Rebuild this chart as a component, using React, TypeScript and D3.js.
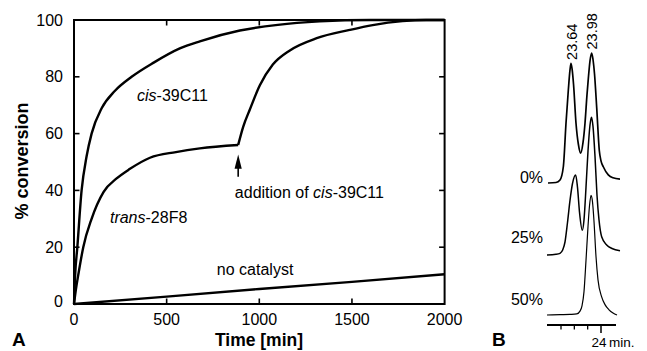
import React from 'react';
import * as d3 from 'd3';

// ---------- Panel A data ----------
const timeTicks = [0, 500, 1000, 1500, 2000];
const percentTicks = [0, 20, 40, 60, 80, 100];

const cisCurve: [number, number][] = [
  [0, 0], [6, 10], [18, 20], [41, 40], [68, 52], [95, 60], [150, 69], [220, 75],
  [311, 80], [430, 85], [571, 90], [679, 92.5], [895, 96.3], [1100, 98.3],
  [1326, 99.5], [1600, 100], [2000, 100],
];
const transBefore: [number, number][] = [
  [0, 0], [10, 5], [25, 11], [50, 20], [95, 30], [160, 39.5], [230, 44.2], [300, 47.5],
  [410, 51.5], [550, 53.5], [679, 54.8], [886, 56],
];
const transAfter: [number, number][] = [
  [886, 56], [913, 62.4], [949, 68.5], [1003, 77], [1073, 84.3], [1165, 89.3],
  [1310, 93.6], [1488, 96.5], [1612, 98.2], [1773, 99.6], [1900, 100], [2000, 100],
];
const noCatalyst: [number, number][] = [
  [0, 0], [500, 2.6], [1000, 5.3], [1500, 7.8], [2000, 10.5],
];
const additionTime = 886;

// ---------- Panel B data ----------
const chromMinorTicks = [23.4, 23.6, 23.8];
const chromMajorTick = 24;
const chromAxisDomain = [23.19, 24.225];
const traceLabels = ['0%', '25%', '50%'];
const peakLabels = ['23.64', '23.98'];

const trace0: [number, number][] = [
  [23.205, 0], [23.325, 0.4], [23.385, 2.3], [23.435, 12.5], [23.475, 46], [23.51, 71.5],
  [23.535, 87], [23.55, 92], [23.568, 87], [23.588, 76], [23.625, 46], [23.66, 30],
  [23.6955, 23], [23.73, 31], [23.76, 46], [23.79, 68], [23.8125, 82], [23.835, 94],
  [23.86, 100], [23.88, 95], [23.9025, 84], [23.9355, 58], [23.9745, 25], [24.0, 17],
  [24.0345, 12.5], [24.1095, 6.2], [24.18, 4], [24.285, 3],
];
const trace25: [number, number][] = [
  [23.19, 0], [23.325, 0.5], [23.385, 1.3], [23.425, 3.8], [23.46, 10], [23.4975, 25],
  [23.535, 42], [23.5725, 55], [23.62, 61.5], [23.6475, 52], [23.6775, 33], [23.72, 19],
  [23.745, 27], [23.775, 52], [23.805, 80], [23.835, 100], [23.8575, 106], [23.88, 99],
  [23.91, 76], [23.94, 46], [23.97, 27], [24.01, 14], [24.0855, 7.7], [24.165, 5],
  [24.285, 3.3],
];
const trace50: [number, number][] = [
  [23.19, 0], [23.385, 0.3], [23.535, 0.5], [23.6355, 0.8], [23.685, 3], [23.715, 7],
  [23.745, 18], [23.775, 42], [23.805, 68], [23.8275, 84], [23.85, 92], [23.8725, 87],
  [23.895, 72], [23.925, 45], [23.955, 27], [24.01, 14], [24.06, 8], [24.12, 4],
  [24.18, 1.5], [24.24, 0],
];
const traces = [trace0, trace25, trace50];

const FONT = "'Liberation Sans', Arial, Helvetica, sans-serif";

export default function App() {
  const W = 647, H = 351;
  const x = d3.scaleLinear().domain([0, 2000]).range([74, 444.6]);
  const y = d3.scaleLinear().domain([0, 100]).range([304, 20]);
  const line = d3.line<[number, number]>().x(d => x(d[0])).y(d => y(d[1])).curve(d3.curveMonotoneX);
  const tick = 5.5;

  // panel B
  const bx = d3.scaleLinear().domain([23.4, 24]).range([561, 601]);
  const bs = d3.scaleLinear().domain([0, 100]).range([0, 130]);
  const baselines = [183, 255, 315];
  const traceWidths = [1.7, 1.5, 1.2];
  const bAxisY = 325;
  const peakRefs: [number, number][] = [trace0[7], trace0[18]];

  return (
    <svg width={W} height={H} style={{ position: 'absolute', left: 0, top: 0, background: '#fff' }}
      fontFamily={FONT}>
      <rect x={0} y={0} width={W} height={H} fill="#fff" />
      {/* Panel A frame */}
      <rect x={x(0)} y={y(100)} width={x(2000) - x(0)} height={y(0) - y(100)} fill="none" stroke="#000" strokeWidth={2} />
      {timeTicks.slice(1, -1).map(t => (
        <g key={'xt' + t}>
          <line x1={x(t)} x2={x(t)} y1={y(0)} y2={y(0) - tick} stroke="#000" strokeWidth={1.6} />
          <line x1={x(t)} x2={x(t)} y1={y(100)} y2={y(100) + tick} stroke="#000" strokeWidth={1.6} />
        </g>
      ))}
      {percentTicks.slice(1, -1).map(p => (
        <g key={'yt' + p}>
          <line x1={x(0)} x2={x(0) + tick} y1={y(p)} y2={y(p)} stroke="#000" strokeWidth={1.6} />
          <line x1={x(2000)} x2={x(2000) - tick} y1={y(p)} y2={y(p)} stroke="#000" strokeWidth={1.6} />
        </g>
      ))}
      {timeTicks.map(t => (
        <text key={'xl' + t} x={x(t)} y={325} textAnchor="middle" fontSize={16}>{t}</text>
      ))}
      {percentTicks.map(p => (
        <text key={'yl' + p} x={63} y={y(p) + 5.5 - (p === 0 ? 3 : 0)} textAnchor="end" fontSize={16}>{p}</text>
      ))}
      <text transform="translate(28,161) rotate(-90)" textAnchor="middle" fontSize={18} fontWeight="bold">% conversion</text>
      <text x={259} y={346} textAnchor="middle" fontSize={17.5} fontWeight="bold">Time [min]</text>
      <text x={12} y={346} fontSize={19} fontWeight="bold">A</text>

      {/* curves */}
      <path d={line(cisCurve) || ''} fill="none" stroke="#000" strokeWidth={2.4} />
      <path d={line(transBefore) || ''} fill="none" stroke="#000" strokeWidth={2.4} />
      <path d={line(transAfter) || ''} fill="none" stroke="#000" strokeWidth={2.4} />
      <path d={d3.line<[number, number]>().x(d => x(d[0])).y(d => y(d[1]))(noCatalyst) || ''} fill="none" stroke="#000" strokeWidth={2.4} />

      {/* annotations */}
      <text x={x(340)} y={y(71.5)} fontSize={16}><tspan fontStyle="italic">cis</tspan>-39C11</text>
      <text x={x(194)} y={y(28.5)} fontSize={16}><tspan fontStyle="italic">trans</tspan>-28F8</text>
      <text x={x(868)} y={y(37.3)} fontSize={16}>addition of <tspan fontStyle="italic">cis</tspan>-39C11</text>
      <text x={x(771)} y={y(10.2)} fontSize={16}>no catalyst</text>
      <line x1={x(additionTime)} x2={x(additionTime)} y1={y(44.8)} y2={y(50)} stroke="#000" strokeWidth={1.6} />
      <path d={`M${x(additionTime)},${y(52.6)} L${x(additionTime) - 3.6},${y(47.6)} L${x(additionTime) + 3.6},${y(47.6)} Z`} fill="#000" />

      {/* Panel B */}
      {traces.map((tr, i) => {
        const l = d3.line<[number, number]>().x(d => bx(d[0])).y(d => baselines[i] - bs(d[1])).curve(d3.curveMonotoneX);
        return <path key={'tr' + i} d={l(tr) || ''} fill="none" stroke="#000" strokeWidth={traceWidths[i]} />;
      })}
      {traceLabels.map((lab, i) => (
        <text key={'tl' + i} x={543} y={[183.3, 243, 305][i]} textAnchor="end" fontSize={16}>{lab}</text>
      ))}
      {peakLabels.map((lab, i) => (
        <text key={'pl' + i} transform={`translate(${bx(peakRefs[i][0]) + 5.5},${baselines[0] - bs(peakRefs[i][1]) - 3.5}) rotate(-90)`} fontSize={14.5}>{lab}</text>
      ))}
      <line x1={bx(chromAxisDomain[0])} x2={bx(chromAxisDomain[1])} y1={bAxisY} y2={bAxisY} stroke="#000" strokeWidth={1.8} />
      {chromMinorTicks.map(t => (
        <line key={'bt' + t} x1={bx(t)} x2={bx(t)} y1={bAxisY} y2={bAxisY + 4.5} stroke="#000" strokeWidth={1.3} />
      ))}
      <line x1={bx(chromMajorTick)} x2={bx(chromMajorTick)} y1={bAxisY} y2={bAxisY + 8} stroke="#000" strokeWidth={1.5} />
      <text x={bx(chromMajorTick) - 9.5} y={347} fontSize={13.5}>{chromMajorTick}</text>
      <text x={609} y={347} fontSize={13.5}>min.</text>
      <text x={492} y={346} fontSize={19} fontWeight="bold">B</text>
    </svg>
  );
}
